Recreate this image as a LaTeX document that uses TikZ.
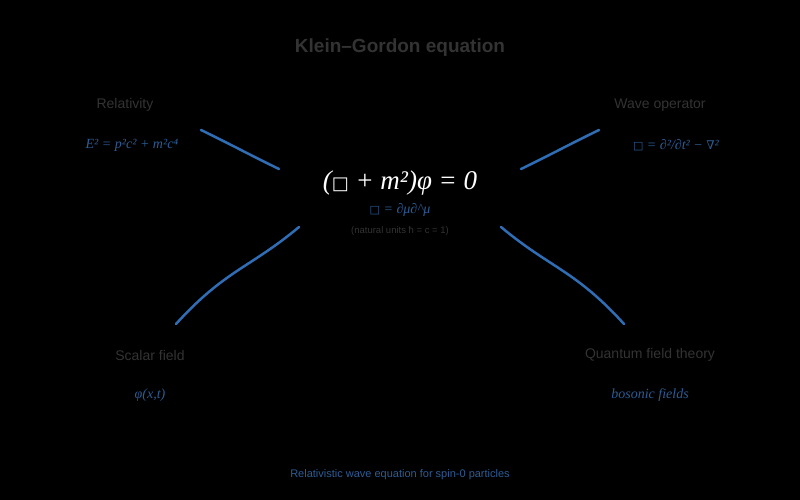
\documentclass[tikz,border=0pt]{standalone}
\usepackage{fontspec}
\setmainfont{Liberation Sans}
\newfontfamily\frm{Liberation Serif}
\newfontfamily\dvs{DejaVu Serif}
\begin{document}
\begin{tikzpicture}[x=1pt,y=-1pt,
  lbl/.style={text=black!78!white, font=\fontsize{14}{16}\selectfont},
  frml/.style={text=blue!45!black!80!cyan, font=\frm\itshape\fontsize{14}{16}\selectfont},
  conn/.style={draw=blue!60!cyan!70!black, line width=2.5pt, line cap=round}]
\definecolor{lbc}{HTML}{333333}
\definecolor{fc}{HTML}{2C5C94}
\definecolor{lc}{HTML}{2F6DB5}
\fill[black] (0,0) rectangle (800,500);
\tikzset{lbl/.style={text=lbc, font=\fontsize{14}{16}\selectfont},
  frml/.style={text=fc, font=\frm\itshape\fontsize{14}{16}\selectfont},
  conn/.style={draw=lc, line width=2.5pt, line cap=round}}
\node (title) at (400,48) [text=lbc, font=\bfseries\fontsize{19}{22}\selectfont] {Klein–Gordon equation};
\node (main) at (400,183) [text=white, font=\frm\itshape\fontsize{27}{30}\selectfont] {(\upshape{\dvs\fontsize{18}{20}\selectfont □}\itshape{} + m²)φ = 0};
\node (box) at (400,210) [frml] {\upshape{\dvs\fontsize{11}{12}\selectfont □}\itshape{} = ∂μ∂\^{}μ};
\node (nat) at (400,231) [text=lbc, font=\fontsize{9.5}{11}\selectfont] {(natural units ħ = c = 1)};
\node (rel) at (125,105) [lbl] {Relativity};
\node (relf) at (132,145) [frml] {E² = p²c² + m²c⁴};
\node (wave) at (660,105) [lbl] {Wave operator};
\node (wavef) at (676,145) [frml] {\upshape{\dvs\fontsize{11}{12}\selectfont □}\itshape{} = ∂²/∂t² − {\dvs\fontsize{12}{14}\selectfont ∇}²};
\node (sca) at (150,355) [lbl] {Scalar field};
\node (scaf) at (150,395) [frml] {φ(x,t)};
\node (qft) at (650,355) [lbl] {Quantum field theory};
\node (qftf) at (650,395) [frml] {bosonic fields};
\node (foot) at (400,475) [text=fc, font=\fontsize{11}{13}\selectfont] {Relativistic wave equation for spin-0 particles};
\coordinate (a1) at (201,130); \coordinate (a2) at (279,169);
\coordinate (b1) at (521,169); \coordinate (b2) at (599,130);
\coordinate (c1) at (299,227); \coordinate (c2) at (176,324);
\coordinate (d1) at (501,227); \coordinate (d2) at (624,324);
\draw[conn] (a1) .. controls (230,144) and (250,155) .. (a2);
\draw[conn] (b1) .. controls (550,155) and (570,144) .. (b2);
\draw[conn] (c1) .. controls (250,268) and (225,270) .. (c2);
\draw[conn] (d1) .. controls (550,268) and (575,270) .. (d2);
\end{tikzpicture}
\end{document}
